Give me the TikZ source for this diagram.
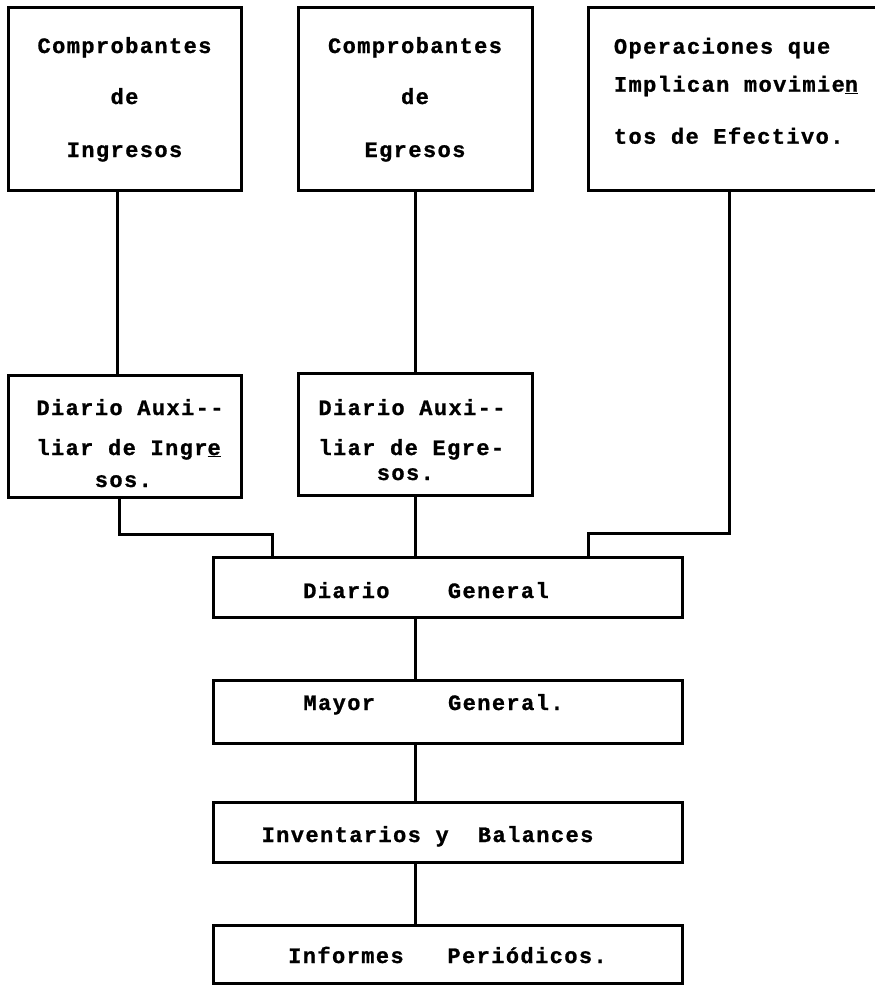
\documentclass[tikz,border=0pt]{standalone}
\usepackage{fontspec}
\setmonofont{Liberation Mono}[LetterSpace=6.4, BoldFeatures={FakeBold=1}]
\usepackage{tikz}
\usetikzlibrary{positioning}

\newlength{\cellw}
\setlength{\cellw}{14.6pt}
\newcommand{\gap}[1]{\hspace*{#1\cellw}}
\newcommand{\boxtext}[3]{\raisebox{#1}[\height][\depth]{\begin{tabular}{#2}#3\end{tabular}}}

\begin{document}
\begin{tikzpicture}[x=1pt, y=-1pt,
    block/.style={rectangle, draw, line width=3pt, inner sep=0pt, outer sep=0pt, font=\ttfamily\bfseries\fontsize{22}{24}\selectfont},
    link/.style={line width=3pt}]

    \useasboundingbox (0,0) rectangle (875,986);

    \node (ingresos) [block, minimum width=233pt, minimum height=183pt] at (124.5,98.5)
        {\boxtext{-1.7pt}{@{}c@{}}{Comprobantes\\[27pt] de\\[29pt] Ingresos}};
    \node (egresos) [block, minimum width=234pt, minimum height=183pt] at (415,98.5)
        {\boxtext{-1.7pt}{@{}c@{}}{Comprobantes\\[27pt] de\\[29pt] Egresos}};
    \node (operaciones) [block, minimum width=312pt, minimum height=183pt] at (744,98.5)
        {\boxtext{4.6pt}{@{}l@{\hspace{16pt}}}{Operaciones que\\[14pt] Implican movimie\underline{n}\\[28pt] tos de Efectivo.}};

    \node (auxing) [block, minimum width=233pt, minimum height=122pt] at (124.5,436)
        {\boxtext{-10.2pt}{@{\hspace{11pt}}l@{}}{Diario Auxi-{}-\\[16pt] liar de Ingr\underline{e}\\[8pt] \gap{4}sos.}};
    \node (auxegr) [block, minimum width=234pt, minimum height=122pt] at (415,434)
        {\boxtext{-8.7pt}{@{}l@{\hspace{6pt}}}{Diario Auxi-{}-\\[16pt] liar de Egre-\\[1pt] \gap{4}sos.}};

    \node (general) [block, minimum width=469pt, minimum height=60pt] at (447.5,587)
        {\boxtext{-6.2pt}{@{}l@{\hspace{43pt}}}{Diario\gap{4}General}};
    \node (mayor) [block, minimum width=469pt, minimum height=63pt, below=63pt of general]
        {\boxtext{6.3pt}{@{}l@{\hspace{28pt}}}{Mayor\gap{5}General.}};
    \node (inventarios) [block, minimum width=469pt, minimum height=60pt, below=59pt of mayor]
        {\boxtext{-5.2pt}{@{}l@{\hspace{40pt}}}{Inventarios y\gap{2}Balances}};
    \node (informes) [block, minimum width=469pt, minimum height=58pt, below=63pt of inventarios]
        {\boxtext{-4.2pt}{@{}c@{}}{Informes\gap{3}Periódicos.}};

    \draw [link] ([xshift=-7.5pt]ingresos.south) -- ([xshift=-7.5pt]auxing.north);
    \draw [link] (egresos.south) -- (auxegr.north);
    \draw [link] ([xshift=-15pt]operaciones.south) -- ++(0,343) -| ([xshift=140.5pt]general.north);
    \draw [link] ([xshift=-5.5pt]auxing.south) -- ++(0,37) -| ([xshift=-175.5pt]general.north);
    \draw [link] (auxegr.south) -- (auxegr.south |- general.north);
    \draw [link] (general.south -| auxegr) -- (mayor.north -| auxegr);
    \draw [link] (mayor.south -| auxegr) -- (inventarios.north -| auxegr);
    \draw [link] (inventarios.south -| auxegr) -- (informes.north -| auxegr);

\end{tikzpicture}
\end{document}
